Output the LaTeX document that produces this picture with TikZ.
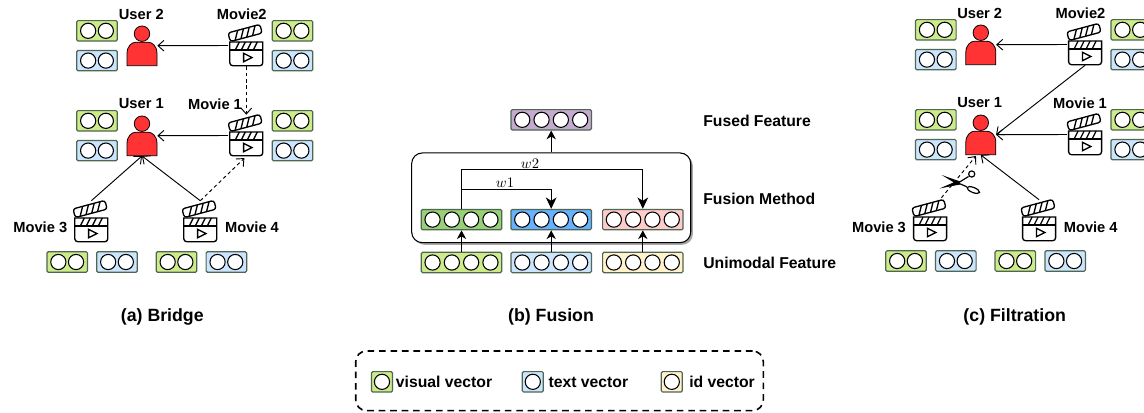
\documentclass[tikz,border=0pt]{standalone}
\usepackage{fontspec}
\setmainfont{Liberation Sans}
\usetikzlibrary{arrows.meta,shadows}
\definecolor{visgreen}{HTML}{CDEB8B}
\definecolor{textblue}{HTML}{CCE5FF}
\definecolor{idyellow}{HTML}{FFF2CC}
\definecolor{mixgreen}{HTML}{97D077}
\definecolor{mixblue}{HTML}{66B2FF}
\definecolor{mixpink}{HTML}{FFCCCC}
\definecolor{mixpurple}{HTML}{C3ABD0}
\definecolor{userred}{HTML}{FF3333}
\definecolor{vecedge}{HTML}{4F6650}
\tikzset{
    vecbox/.style={draw=vecedge,line width=0.9pt,rounded corners=1pt,inner sep=0pt,
        minimum height=15.3pt},
    vecdot/.style={draw=black,fill=white,circle,line width=0.8pt,inner sep=0pt,
        minimum size=11.4pt},
    usernode/.style={inner sep=0pt,minimum width=22.5pt,minimum height=30pt},
    movienode/.style={inner sep=0pt,minimum width=27pt,minimum height=30.75pt},
    name label/.style={font=\fontsize{11}{13}\selectfont\bfseries,inner sep=0pt},
    row label/.style={font=\fontsize{11.8}{14}\selectfont\bfseries,inner sep=0pt,anchor=west},
    cap label/.style={font=\fontsize{13.3}{16}\selectfont\bfseries,inner sep=0pt},
    link/.style={-{Straight Barb[length=4.5pt,width=8pt]},line width=0.7pt},
    link dash/.style={link,dash pattern=on 2.6pt off 2.2pt},
    fuse/.style={-{Stealth[length=6.5pt,width=7pt,inset=2pt]},line width=0.8pt},
    fuse big/.style={-{Stealth[length=8.5pt,width=8pt,inset=2.5pt]},line width=0.8pt}
}
%vector box: name, x, y, colour, circles, width, spacing
\newcommand{\vecrow}[7]{
    \node[vecbox,fill=#4,minimum width=#6*0.75pt] (#1) at (#2,#3) {};
    \foreach \i in {1,...,#5}
        \node[vecdot] (#1-\i) at ({#2+(\i-(#5+1)/2)*#7},#3) {};
}
\newcommand{\vecpair}[4]{\vecrow{#1}{#2}{#3}{#4}{2}{40.6}{17.7}}
\newcommand{\vecfour}[4]{\vecrow{#1}{#2}{#3}{#4}{4}{80.4}{19.3}}
\newcommand{\usershape}[3]{
    \node[usernode] (#1) at (#2,#3) {};
    \draw[fill=userred,line width=0.6pt] (#2-15,#3+20) -- (#2-15,#3+8)
        .. controls (#2-15,#3+0) and (#2-10,#3-3.5) .. (#2-6,#3-3.5)
        -- (#2+6,#3-3.5)
        .. controls (#2+10,#3-3.5) and (#2+15,#3+0) .. (#2+15,#3+8)
        -- (#2+15,#3+20) -- cycle;
    \draw[fill=userred,line width=0.6pt] (#2,#3-12) circle[radius=5.8pt];
}
\newcommand{\clapper}[3]{
    \node[movienode] (#1) at (#2,#3) {};
    \begin{scope}[shift={(#2,#3)},line width=1pt]
        \draw[rounded corners=2.2pt,fill=white] (-16.5,-3.5) [sharp corners] -- (16.5,-3.5)
            [rounded corners=2.2pt] -- (16.5,20.2) -- (-16.5,20.2) [sharp corners] -- cycle;
        \draw (-16.5,4.5) -- (16.5,4.5);
        \foreach \s in {-9,-3,3,9}
            \draw (\s-2,4.5) -- (\s+2,-3.5);
        \draw (-2.7,7.8) -- (-2.7,16.2) -- (5.7,12) -- cycle;
        \begin{scope}[shift={(-1.2,-12.5)},rotate=15]
            \draw[rounded corners=2pt,fill=white] (-16.5,-4.5) rectangle (16.5,4.5);
            \foreach \s in {-10,-4,2,8}
                \draw (\s-1.5,4.5) -- (\s+3.5,-4.5);
        \end{scope}
    \end{scope}
}
\begin{document}
\begin{tikzpicture}[x=0.75pt,y=-0.75pt]
    \clip (0,0) rectangle (1144,412);
    \useasboundingbox (0,0) rectangle (1144,412);
    %bridge vectors
    \foreach \vname/\vx/\vy/\vcol in {
        agA/97/30.8/visgreen,abA/97/60.6/textblue,agB/292.5/30.8/visgreen,abB/292.5/60.6/textblue,
        agC/97/120.8/visgreen,abC/97/150.6/textblue,agD/292.5/120.8/visgreen,abD/292.5/150.6/textblue,
        agE/67.2/262/visgreen,abE/117/262/textblue,agF/176.5/262/visgreen,abF/226.4/262/textblue}
        \vecpair{\vname}{\vx}{\vy}{\vcol};
    %bridge nodes
    \usershape{userAtwo}{142}{45.7}
    \usershape{userAone}{142}{135.7}
    \clapper{movAtwo}{246.3}{45.5}
    \clapper{movAone}{246.3}{135.5}
    \clapper{movAthree}{91.3}{221.5}
    \clapper{movAfour}{200.3}{221.5}
    \node[name label] (ltAa) at (141.3,14) {User 2};
    \node[name label] (ltAb) at (141.3,104) {User 1};
    \node[name label] (ltAc) at (241.7,14) {Movie2};
    \node[name label] (ltAd) at (215,104) {Movie 1};
    \node[name label] (ltAe) at (40.3,227.7) {Movie 3};
    \node[name label] (ltAf) at (252,227.7) {Movie 4};
    %bridge links
    \draw[link] (movAtwo.west) -- (userAtwo.east);
    \draw[link] (movAone.west) -- (userAone.east);
    \draw[link dash] (movAtwo.south) -- (movAone.north);
    \draw[link] (movAthree.north) -- (userAone.south);
    \draw[link] (movAfour.north) -- (userAone.south);
    \draw[link dash,shorten >=2pt] (movAfour.north) -- (movAone.south);
    \node[cap label] (capA) at (162.3,317) {(a) Bridge};
    %fusion
    \node[draw,fill=white,line width=0.8pt,rounded corners=8pt,minimum width=209.3pt,minimum height=67.3pt,
        inner sep=0pt,general shadow={shadow xshift=1.6pt,shadow yshift=-1.6pt,fill=black!35}]
        (mixer) at (551.2,197.8) {};
    \vecfour{fused}{551.2}{119.8}{mixpurple}
    \vecfour{mixG}{461.5}{219.6}{mixgreen}
    \vecfour{mixB}{551.2}{219.6}{mixblue}
    \vecfour{mixP}{642.8}{219.6}{mixpink}
    \vecfour{uniG}{461.5}{262.5}{visgreen}
    \vecfour{uniB}{551.2}{262.5}{textblue}
    \vecfour{uniP}{642.8}{262.5}{idyellow}
    \coordinate (wtwo) at (0,169.3);
    \coordinate (wone) at (0,189.7);
    \draw[fuse big] (mixG.north) -- (mixG.north |- wtwo) -| (mixP.north);
    \draw[fuse big] (mixG.north |- wone) -| (mixB.north);
    \draw[fuse] (uniG.north) -- (mixG.south);
    \draw[fuse] (uniB.north) -- (mixB.south);
    \draw[fuse] (uniP.north) -- (mixP.south);
    \draw[fuse] (mixer.north) -- (fused.south);
    \node[font=\fontsize{10.5}{12}\selectfont,inner sep=0pt] (wA) at (505,183) {$w1$};
    \node[font=\fontsize{10.5}{12}\selectfont,inner sep=0pt] (wB) at (530,164) {$w2$};
    \node[row label] (lbFused) at (703,120.5) {Fused Feature};
    \node[row label] (lbMethod) at (703,198.5) {Fusion Method};
    \node[row label] (lbUni) at (703,262.5) {Unimodal Feature};
    \node[cap label] (capB) at (551,317) {(b) Fusion};
    %filtration vectors
    \foreach \vname/\vx/\vy/\vcol in {
        cgA/935.8/29.8/visgreen,cbA/935.8/59.6/textblue,cgB/1131.3/29.8/visgreen,cbB/1131.3/59.6/textblue,
        cgC/935.8/119.8/visgreen,cbC/935.8/149.6/textblue,cgD/1131.3/119.8/visgreen,cbD/1131.3/149.6/textblue,
        cgE/906/261/visgreen,cbE/955.8/261/textblue,cgF/1015.3/261/visgreen,cbF/1065.2/261/textblue}
        \vecpair{\vname}{\vx}{\vy}{\vcol};
    %filtration nodes
    \usershape{userCtwo}{980.8}{44.7}
    \usershape{userCone}{980.8}{134.7}
    \clapper{movCtwo}{1085.1}{44.5}
    \clapper{movCone}{1085.1}{134.5}
    \clapper{movCthree}{930.1}{220.5}
    \clapper{movCfour}{1039.1}{220.5}
    \node[name label] (ltCa) at (979.7,13) {User 2};
    \node[name label] (ltCb) at (979.7,103) {User 1};
    \node[name label] (ltCc) at (1080.5,13) {Movie2};
    \node[name label] (ltCd) at (1080,103) {Movie 1};
    \node[name label] (ltCe) at (879,227) {Movie 3};
    \node[name label] (ltCf) at (1090.7,227) {Movie 4};
    %filtration links
    \draw[link] (movCtwo.west) -- (userCtwo.east);
    \draw[link] (movCone.west) -- (userCone.east);
    \draw[link] (movCtwo.south) -- (userCone.east);
    \draw[link dash,shorten >=1pt] ([xshift=8.5pt,yshift=1.5pt]movCthree.north) -- ([xshift=-3pt]userCone.south);
    \draw[link] (movCfour.north) -- (userCone.south);
    %scissors
    \draw[line width=0.9pt] (958,183) -- (966.7,186.7);
    \draw[line width=0.9pt] (958,183) -- (968.5,176.5);
    \fill (941.7,175) -- (960,181.5) -- (958,185) -- cycle;
    \fill (939.5,188.5) -- (958,180.5) -- (960,184.5) -- cycle;
    \draw[line width=0.9pt,fill=white] (971.7,174) circle[radius=2.3pt];
    \draw[line width=0.9pt,fill=white,rotate around={-22:(973.3,190)}] (973.3,190) ellipse[x radius=5pt,y radius=1.9pt];
    \node[cap label] (capC) at (1014.7,317) {(c) Filtration};
    %legend
    \node[draw,line width=1.2pt,dash pattern=on 5pt off 3.6pt,rounded corners=8pt,minimum width=305.7pt,
        minimum height=44.7pt,inner sep=0pt] (legend) at (559.5,380.8) {};
    \vecrow{lgV}{382}{381.8}{visgreen}{1}{21}{0}
    \vecrow{lgT}{532.8}{381.8}{textblue}{1}{21}{0}
    \vecrow{lgI}{671.8}{381.8}{idyellow}{1}{21}{0}
    \node[row label] (lbV) at (395.7,382) {visual vector};
    \node[row label] (lbT) at (548.3,382) {text vector};
    \node[row label] (lbI) at (689,382) {id vector};
\end{tikzpicture}
\end{document}
